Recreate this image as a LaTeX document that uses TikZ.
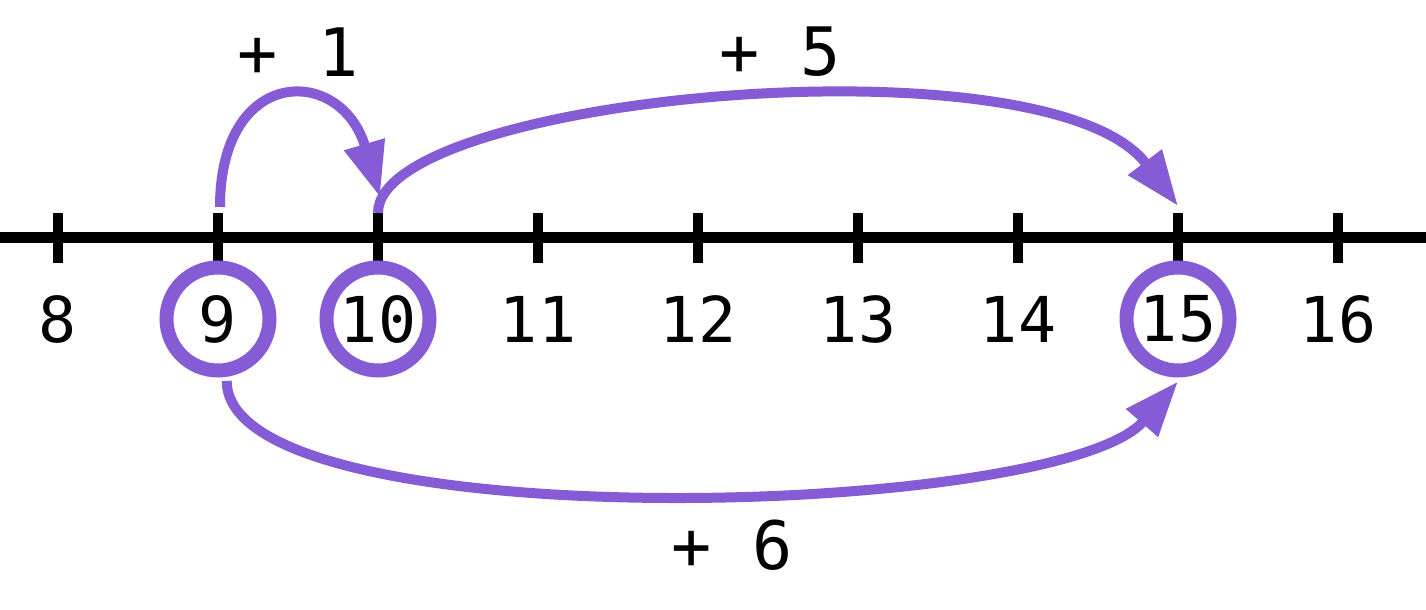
\documentclass[tikz,border=0pt]{standalone}
\usepackage{fontspec}
\setmonofont{DejaVu Sans Mono}
\usetikzlibrary{arrows.meta}
\definecolor{jumpcol}{RGB}{133,92,214}

\begin{document}
\begin{tikzpicture}[
  numlab/.style={circle, inner sep=0pt, minimum size=1.03cm, font=\ttfamily\fontsize{18}{20}\selectfont},
  ring/.style={draw=jumpcol, line width=0.14cm, outer sep=0.11cm},
  jump/.style={jumpcol, line width=0.1cm, -{Triangle[length=5.5mm, width=4mm]}},
  jumplab/.style={font=\ttfamily\fontsize{19}{22}\selectfont}]
  \useasboundingbox (-0.58,-3.72) rectangle (13.68,2.38);
  \draw[line width=0.11cm] (-0.58,0) -- (13.68,0);
  \foreach \n/\r in {8/, 9/ring, 10/ring, 11/, 12/, 13/, 14/, 15/ring, 16/}{
    \pgfmathsetmacro{\x}{(\n-8)*1.6}
    \draw[line width=0.1cm] (\x,-0.25) -- (\x,0.25);
    \node[numlab,\r] (n\n) at (\x,-0.81) {\n};
  }
  \coordinate (a9) at (1.62,0.31);
  \coordinate (b10) at (3.22,0.41);
  \coordinate (a10) at (3.20,0.25);
  \coordinate (b15) at (11.20,0.32);
  \draw[jump] (a10) .. controls +(0,1.17) and +(-1.30,1.72) .. (b15);
  \draw[jump] (a9) .. controls +(0,1.42) and +(-0.39,1.32) .. (b10);
  \draw[jump] (n9.-82) .. controls +(0,-1.6) and +(-1.2,-1.38) .. (n15.south);
  \node[jumplab] (l1) at (2.40,1.86) {+ 1};
  \node[jumplab] (l5) at (7.22,1.86) {+ 5};
  \node[jumplab] (l6) at (6.74,-3.07) {+ 6};
\end{tikzpicture}
\end{document}
